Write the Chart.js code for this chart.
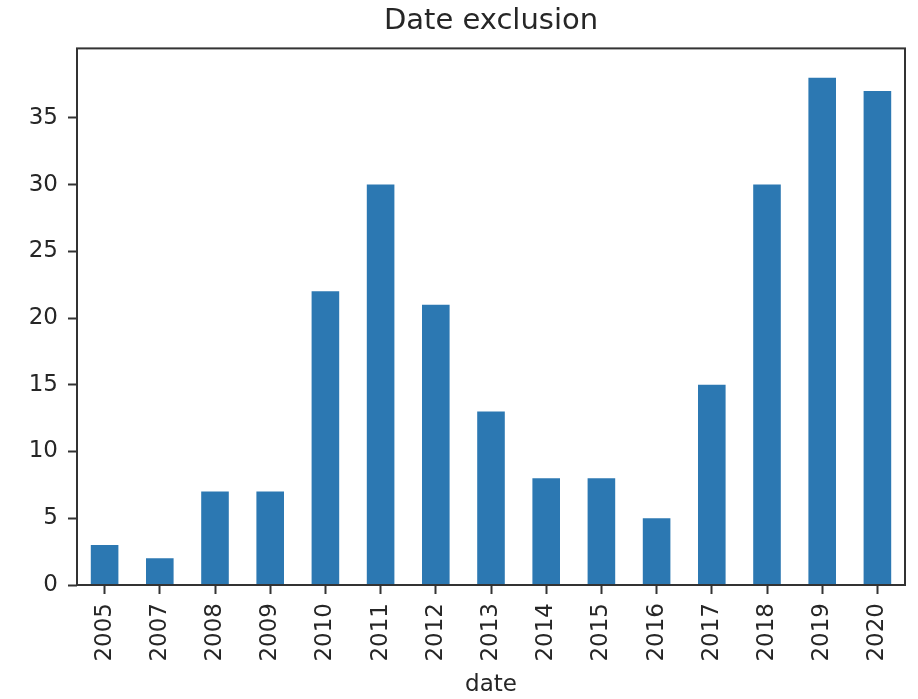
<!DOCTYPE html>
<html>
<head>
<meta charset="utf-8">
<script src="https://cdn.jsdelivr.net/npm/chart.js@4/dist/chart.umd.min.js"></script>
<style>
  html, body { margin: 0; padding: 0; background: #fff; }
  #wrap { width: 918px; height: 699px; }
</style>
</head>
<body>
<div id="wrap"><canvas id="barChart"></canvas></div>
<script>
const years = ['2005', '2007', '2008', '2009', '2010', '2011', '2012', '2013', '2014', '2015', '2016', '2017', '2018', '2019', '2020'];
const counts = [3, 2, 7, 7, 22, 30, 21, 13, 8, 8, 5, 15, 30, 38, 37];
const yTicks = [0, 5, 10, 15, 20, 25, 30, 35];

const axisColor = '#333333';
const textColor = '#262626';

// draw the box around the plot like matplotlib spines
const frame = {
    id: 'frame',
    afterDraw(chart) {
        const a = chart.chartArea, ctx = chart.ctx;
        ctx.save();
        ctx.strokeStyle = axisColor;
        ctx.lineWidth = 2;
        ctx.strokeRect(a.left, a.top, a.right - a.left, a.bottom - a.top);
        ctx.restore();
    }
};

new Chart(document.getElementById('barChart'), {
    type: 'bar',
    data: {
        labels: years,
        datasets: [{
            label: 'date',
            data: counts,
            backgroundColor: '#2c78b2',
            barPercentage: 0.5,
            categoryPercentage: 1.0
        }]
    },
    options: {
        responsive: true,
        maintainAspectRatio: false,
        animation: false,
        layout: { padding: { left: 0, right: 13, top: 0, bottom: 0 } },
        plugins: {
            legend: { display: false },
            tooltip: { enabled: false },
            title: {
                display: true,
                fullSize: false,
                text: 'Date exclusion',
                color: textColor,
                font: { family: 'DejaVu Sans', size: 29, weight: 'normal' },
                padding: { top: 4, bottom: 9.6 }
            }
        },
        scales: {
            x: {
                grid: { display: true, drawOnChartArea: false, offset: false, tickLength: 9, tickWidth: 2, color: axisColor },
                border: { display: false },
                ticks: {
                    color: textColor,
                    font: { family: 'DejaVu Sans', size: 23 },
                    minRotation: 90,
                    maxRotation: 90,
                    padding: 9
                },
                title: {
                    display: true,
                    text: 'date',
                    color: textColor,
                    font: { family: 'DejaVu Sans', size: 23 },
                    padding: { top: 0, bottom: 0 }
                },
                afterFit(scale) { scale.height = 114; }
            },
            y: {
                min: 0,
                max: 40.2,
                grid: { display: true, drawOnChartArea: false, tickLength: 9, tickWidth: 2, color: axisColor },
                border: { display: false },
                ticks: {
                    color: textColor,
                    font: { family: 'DejaVu Sans', size: 23 },
                    padding: 10
                },
                afterBuildTicks(scale) { scale.ticks = yTicks.map(v => ({ value: v })); },
                afterFit(scale) { scale.width = 77; }
            }
        }
    },
    plugins: [frame]
});
</script>
</body>
</html>
